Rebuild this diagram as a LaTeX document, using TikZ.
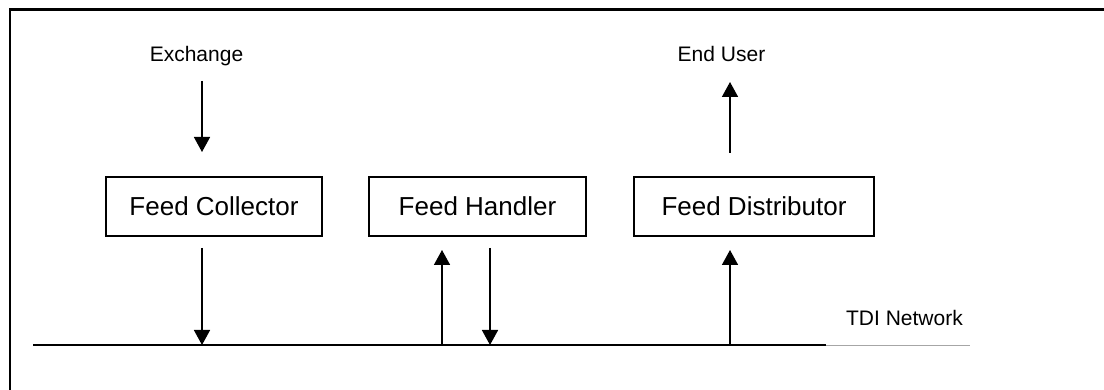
\documentclass[tikz,border=0pt]{standalone}
\usepackage{fontspec}
\setmainfont{Liberation Sans}
\usetikzlibrary{arrows.meta}
\begin{document}
\begin{tikzpicture}[x=1pt,y=-1pt,
  box/.style={draw,line width=2pt,minimum height=59pt,inner sep=0pt,font=\fontsize{26}{30}\selectfont},
  lbl/.style={font=\fontsize{21}{25}\selectfont,anchor=base,inner sep=0pt},
  flow/.style={line width=1.6pt,-{Triangle[length=15pt,width=16pt]}},
  net/.style={line width=2pt}]
\useasboundingbox (0,0) rectangle (1104,390);
\fill[white] (0,0) rectangle (1104,390);
% frame (top and left edges visible)
\draw[line width=2.4pt] (10,400) -- (10,9.5) -- (1110,9.5);
% boxes
\node[box,minimum width=216pt] (fc) at (214,206.5) {Feed Collector};
\node[box,minimum width=217pt] (fh) at (477.5,206.5) {Feed Handler};
\node[box,minimum width=240pt] (fd) at (754,206.5) {Feed Distributor};
% labels
\node[lbl] (ex) at (196.5,62) {Exchange};
\node[lbl] (eu) at (721.5,62) {End User};
\node[lbl] (tdi) at (904.5,326) {TDI Network};
% network line
\coordinate (n0) at (33,345);
\coordinate (n1) at (826,345);
\coordinate (n2) at (970,345);
\draw[net] (n0) -- (n1);
\draw[line width=1pt,gray!70] (n1) -- (n2);
% arrow end points
\coordinate (exa) at (202,81);
\coordinate (exb) at (202,152);
\coordinate (eua) at (730,153);
\coordinate (eub) at (730,82);
\coordinate (fca) at (202,248);
\coordinate (fcb) at (202,345);
\coordinate (fhua) at (442,345);
\coordinate (fhub) at (442,250);
\coordinate (fhda) at (490,248);
\coordinate (fhdb) at (490,345);
\coordinate (fdua) at (730,345);
\coordinate (fdub) at (730,250);
% arrows
\draw[flow] (exa) -- (exb);
\draw[flow] (eua) -- (eub);
\draw[flow] (fca) -- (fcb);
\draw[flow] (fhua) -- (fhub);
\draw[flow] (fhda) -- (fhdb);
\draw[flow] (fdua) -- (fdub);
\end{tikzpicture}
\end{document}
